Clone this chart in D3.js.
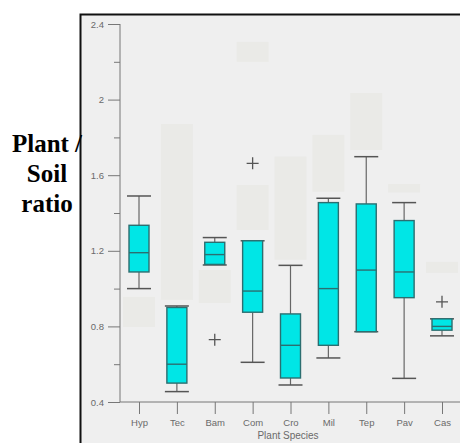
<!DOCTYPE html>
<html><head><meta charset="utf-8">
<script src="https://cdn.jsdelivr.net/npm/d3@7"></script>
<style>body{margin:0;background:#fff}svg{display:block}</style>
</head><body>
<svg id="c" width="460" height="443"></svg>
<script>
const categories = ["Hyp","Tec","Bam","Com","Cro","Mil","Tep","Pav","Cas"];
const lowerWhisker = [1.00, 0.455, 1.125, 0.61, 0.49, 0.633, 0.772, 0.525, 0.75];
const q1Values     = [1.088, 0.50, 1.128, 0.875, 0.527, 0.70, 0.772, 0.952, 0.78];
const medianValues = [1.19, 0.60, 1.18, 0.987, 0.70, 1.00, 1.098, 1.088, 0.80];
const q3Values     = [1.335, 0.90, 1.245, 1.253, 0.866, 1.455, 1.448, 1.36, 0.84];
const upperWhisker = [1.49, 0.908, 1.27, 1.253, 1.123, 1.478, 1.698, 1.455, 0.84];
const outlierCats  = ["Bam","Com","Cas"];
const outlierVals  = [0.73, 1.663, 0.93];
const ghostCats = ["Hyp","Tec","Bam","Com","Com","Cro","Mil","Tep","Pav","Cas"];
const ghostLo   = [0.797, 0.94, 0.924, 1.31, 2.20, 1.153, 1.513, 1.733, 1.508, 1.083];
const ghostHi   = [0.956, 1.871, 1.098, 1.548, 2.305, 1.699, 1.813, 2.035, 1.553, 1.141];
const yTicks = [0.4, 0.8, 1.2, 1.6, 2, 2.4];
const yMinorTicks = [0.6, 1.0, 1.4, 1.8, 2.2];

const svg = d3.select("#c");
svg.append("rect").attr("x",80).attr("y",14).attr("width",380).attr("height",429).attr("fill","#efefef");
svg.append("path").attr("d","M80.5,443V14.5H460").attr("fill","none").attr("stroke","#111").attr("stroke-width",2);

const x = d3.scalePoint().domain(categories).range([139, 442]);
const y = d3.scaleLinear().domain([0.4, 2.4]).range([402, 24]);

svg.append("g").selectAll("rect").data(ghostCats).join("rect")
  .attr("x", d => x(d) - 16).attr("width", 32)
  .attr("y", (d,i) => y(ghostHi[i])).attr("height", (d,i) => y(ghostLo[i]) - y(ghostHi[i]))
  .attr("fill", "#eaeae7");

svg.append("g").attr("transform","translate(120,0)")
  .call(d3.axisLeft(y).tickValues(yTicks).tickSize(12).tickPadding(4).tickFormat(d3.format("")));
svg.append("g").attr("transform","translate(120,0)")
  .call(d3.axisLeft(y).tickValues(yMinorTicks).tickSize(6).tickFormat(""));
svg.append("g").attr("transform","translate(0,402)")
  .call(d3.axisBottom(x).tickSize(12).tickPadding(5));
svg.selectAll(".domain").remove();
svg.append("line").attr("x1",120).attr("x2",120).attr("y1",y(2.4)).attr("y2",402).attr("stroke","#777");
svg.append("line").attr("x1",120).attr("x2",460).attr("y1",402).attr("y2",402).attr("stroke","#777");
svg.selectAll(".tick line").attr("stroke","#777");
svg.selectAll(".tick text").attr("fill","#6a6a6a").style("font-family","'Liberation Sans', Arial, sans-serif").style("font-size","9.5px");

const g = svg.append("g");
categories.forEach((c, i) => {
  const cx = x(c);
  g.append("line").attr("x1",cx).attr("x2",cx).attr("y1",y(upperWhisker[i])).attr("y2",y(q3Values[i])).attr("stroke","#666").attr("stroke-width",1.2);
  g.append("line").attr("x1",cx).attr("x2",cx).attr("y1",y(q1Values[i])).attr("y2",y(lowerWhisker[i])).attr("stroke","#666").attr("stroke-width",1.2);
  g.append("line").attr("x1",cx-12).attr("x2",cx+12).attr("y1",y(upperWhisker[i])).attr("y2",y(upperWhisker[i])).attr("stroke","#555").attr("stroke-width",1.5);
  g.append("line").attr("x1",cx-12).attr("x2",cx+12).attr("y1",y(lowerWhisker[i])).attr("y2",y(lowerWhisker[i])).attr("stroke","#555").attr("stroke-width",1.5);
  g.append("rect").attr("x",cx-10).attr("width",20).attr("y",y(q3Values[i])).attr("height",y(q1Values[i])-y(q3Values[i]))
    .attr("fill","#00e6e6").attr("stroke","#2c6e70").attr("stroke-width",1.4);
  g.append("line").attr("x1",cx-10).attr("x2",cx+10).attr("y1",y(medianValues[i])).attr("y2",y(medianValues[i])).attr("stroke","#2c6e70").attr("stroke-width",1.4);
});

outlierCats.forEach((c, i) => {
  const cx = x(c), cy = y(outlierVals[i]);
  g.append("path").attr("d",`M${cx-6},${cy}H${cx+6}M${cx},${cy-6}V${cy+6}`).attr("stroke","#555").attr("stroke-width",1.3);
});

svg.append("text").attr("x",288).attr("y",439).attr("text-anchor","middle").attr("fill","#6a6a6a")
  .style("font-family","'Liberation Sans', Arial, sans-serif").style("font-size","10px").text("Plant Species");
const yl = svg.append("text").attr("text-anchor","middle")
  .style("font-family","'Liberation Serif', 'Times New Roman', serif").style("font-weight","bold").style("font-size","25px").attr("fill","#000");
[["Plant /",152],["Soil",182],["ratio",212]].forEach(([t,yy]) => yl.append("tspan").attr("x",47).attr("y",yy).text(t));
</script>
</body></html>
